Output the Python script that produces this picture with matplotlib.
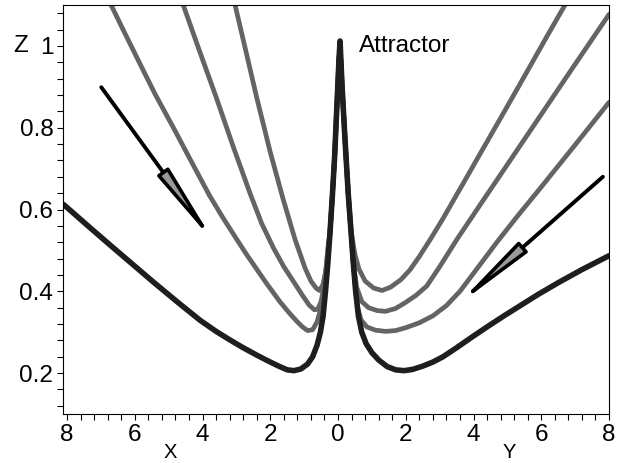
import matplotlib
matplotlib.use('Agg')
import numpy as np
import matplotlib.pyplot as plt
from matplotlib.patches import Polygon
from matplotlib.ticker import MultipleLocator, FixedLocator

plt.rcParams['font.family'] = ['Liberation Sans', 'DejaVu Sans']

# black trajectory (left branch -> attractor -> right branch)
black_x = [-8.1, -7.7, -7.37, -6.7, -6.05, -5.4, -4.7, -4.07, -3.6, -3.19, -2.8, -2.4, -2.05,
           -1.75, -1.5, -1.3, -1.1, -0.9, -0.75, -0.62, -0.52, -0.44, -0.37, -0.3, -0.24,
           -0.17, -0.1, -0.03, 0.03, 0.06,
           0.12, 0.2, 0.3, 0.38, 0.45, 0.52, 0.6, 0.7, 0.83, 1.0, 1.2, 1.45, 1.7, 1.95,
           2.2, 2.5, 2.8, 3.1, 3.5, 3.9, 4.4, 4.9, 5.4, 5.9, 6.5, 7.2, 8.0]
black_z = [0.612, 0.583, 0.559, 0.511, 0.465, 0.419, 0.371, 0.329, 0.302, 0.281, 0.262, 0.244, 0.229,
           0.217, 0.208, 0.206, 0.210, 0.222, 0.240, 0.268, 0.30, 0.34, 0.40, 0.47, 0.54,
           0.63, 0.73, 0.86, 0.97, 1.012,
           0.90, 0.78, 0.64, 0.55, 0.47, 0.40, 0.34, 0.30, 0.272, 0.25, 0.232, 0.216, 0.208, 0.206,
           0.209, 0.217, 0.227, 0.240, 0.262, 0.285, 0.313, 0.340, 0.366, 0.392, 0.421, 0.453, 0.487]

# grey trajectories, left side (X)
left_a_x = [-6.70, -6.3, -5.84, -5.4, -4.86, -4.4, -3.8, -3.4, -2.99, -2.7, -2.45, -2.1, -1.71,
            -1.45, -1.21, -1.05, -0.9, -0.75, -0.62, -0.5, -0.4, -0.33, -0.24, -0.17, -0.1,
            -0.03, 0.03, 0.06]
left_a_z = [1.10, 1.032, 0.955, 0.882, 0.80, 0.728, 0.635, 0.58, 0.527, 0.49, 0.46, 0.418, 0.374,
            0.348, 0.326, 0.313, 0.304, 0.306, 0.325, 0.36, 0.41, 0.46, 0.54, 0.63, 0.73,
            0.86, 0.97, 1.0]
left_b_x = [-4.57, -4.1, -3.6, -3.1, -2.6, -2.25, -1.9, -1.6, -1.3, -1.05, -0.85, -0.7, -0.6,
            -0.5, -0.42, -0.35, -0.28, -0.24, -0.17, -0.1, -0.03, 0.03, 0.06]
left_b_z = [1.10, 0.99, 0.875, 0.755, 0.64, 0.565, 0.505, 0.46, 0.422, 0.39, 0.366, 0.355, 0.356,
            0.375, 0.41, 0.46, 0.52, 0.54, 0.63, 0.73, 0.86, 0.97, 1.0]
left_c_x = [-3.04, -2.7, -2.39, -2.0, -1.62, -1.27, -0.97, -0.8, -0.65, -0.55, -0.45, -0.36,
            -0.3, -0.24, -0.17, -0.1, -0.03, 0.03, 0.06]
left_c_z = [1.10, 0.98, 0.87, 0.74, 0.625, 0.527, 0.456, 0.425, 0.408, 0.402, 0.415, 0.45,
            0.50, 0.54, 0.63, 0.73, 0.86, 0.97, 1.0]

# grey trajectories, right side (Y)
right_a_x = [0.06, 0.12, 0.2, 0.3, 0.38, 0.45, 0.5, 0.58, 0.68, 0.85, 1.1, 1.4, 1.7, 2.0,
             2.4, 2.8, 3.2, 3.6, 4.1, 4.69, 5.3, 6.0, 7.0, 8.0]
right_a_z = [1.0, 0.90, 0.78, 0.64, 0.55, 0.47, 0.42, 0.36, 0.33, 0.313, 0.305, 0.302, 0.304, 0.311,
             0.323, 0.340, 0.365, 0.40, 0.455, 0.52, 0.584, 0.655, 0.758, 0.862]
right_b_x = [0.06, 0.12, 0.2, 0.3, 0.38, 0.45, 0.55, 0.7, 0.9, 1.15, 1.4, 1.7, 2.0, 2.3,
             2.62, 3.0, 3.51, 4.2, 5.0, 5.8, 6.9, 8.0]
right_b_z = [1.0, 0.90, 0.78, 0.64, 0.55, 0.47, 0.41, 0.375, 0.36, 0.353, 0.351, 0.358, 0.373, 0.39,
             0.413, 0.46, 0.527, 0.612, 0.71, 0.808, 0.943, 1.077]
right_c_x = [0.06, 0.12, 0.2, 0.3, 0.38, 0.5, 0.62, 0.8, 1.05, 1.3, 1.55, 1.85, 2.12, 2.4,
             2.71, 3.1, 3.6, 4.2, 4.9, 5.6, 6.2, 6.70]
right_c_z = [1.0, 0.90, 0.78, 0.64, 0.55, 0.49, 0.454, 0.425, 0.408, 0.402, 0.41, 0.428, 0.452, 0.485,
             0.525, 0.578, 0.65, 0.737, 0.838, 0.94, 1.028, 1.10]

# arrows (start, end)
arrow_left = [(-6.99, 0.899), (-4.01, 0.56)]
arrow_right = [(7.82, 0.68), (3.98, 0.40)]

xticks = [-8, -6, -4, -2, 0, 2, 4, 6, 8]
xtick_labels = [str(abs(t)) for t in xticks]
yticks = [0.2, 0.4, 0.6, 0.8, 1.0]
ytick_labels = ['0.2', '0.4', '0.6', '0.8', '1']

fig = plt.figure(figsize=(6.22, 4.63), dpi=100)
ax = fig.add_axes([63 / 622, 49 / 463, 546 / 622, 409 / 463])
ax.set_xlim(-8.12, 8.0)
ax.set_ylim(0.1, 1.1)

grey = '#646464'
dark = '#1e1e1e'
for xs, zs in [(left_a_x, left_a_z), (left_b_x, left_b_z), (left_c_x, left_c_z),
               (right_a_x, right_a_z), (right_b_x, right_b_z), (right_c_x, right_c_z)]:
    ax.plot(xs, zs, color=grey, lw=3.4, solid_capstyle='round', solid_joinstyle='round')
ax.plot(black_x, black_z, color=dark, lw=4.0, solid_capstyle='round', solid_joinstyle='round')

# arrows: shaft as a line, slender head built in pixel space at the end point
head_len, head_half = 66, 5.5
for (x0, z0), (x1, z1) in [arrow_left, arrow_right]:
    ax.plot([x0, x1], [z0, z1], color='black', lw=2.8, solid_capstyle='round', zorder=4)
    p0 = ax.transData.transform((x0, z0))
    p1 = ax.transData.transform((x1, z1))
    d = (p1 - p0) / np.hypot(*(p1 - p0))
    n = np.array([-d[1], d[0]])
    base = p1 - d * head_len
    head = Polygon([p1, base + n * head_half, base - n * head_half], closed=True,
                   transform=None, fc='#999999', ec='black', lw=2.6, joinstyle='round',
                   zorder=5)
    ax.add_artist(head)

ax.text(0.62, 1.0, 'Attractor', fontsize=17.5, va='center', ha='left')

ax.xaxis.set_major_locator(FixedLocator(xticks))
ax.set_xticklabels(xtick_labels)
ax.xaxis.set_minor_locator(MultipleLocator(0.4))
ax.yaxis.set_major_locator(FixedLocator(yticks))
ax.set_yticklabels(ytick_labels)
ax.yaxis.set_minor_locator(MultipleLocator(0.04))
ax.tick_params(which='both', direction='out', length=4, width=0.8, labelsize=17.5, pad=3,
               top=False, right=False)

ax.text(-0.092, 1.0, 'Z', transform=ax.get_yaxis_transform(), fontsize=17.5,
        va='center', ha='left')
trans = ax.get_xaxis_transform()
ax.text(-4.96, -0.072, 'X', transform=trans, fontsize=14.5, va='top', ha='center')
ax.text(5.07, -0.072, 'Y', transform=trans, fontsize=14.5, va='top', ha='center')

for s in ax.spines.values():
    s.set_linewidth(0.8)

fig.savefig('out.png', dpi=100)
